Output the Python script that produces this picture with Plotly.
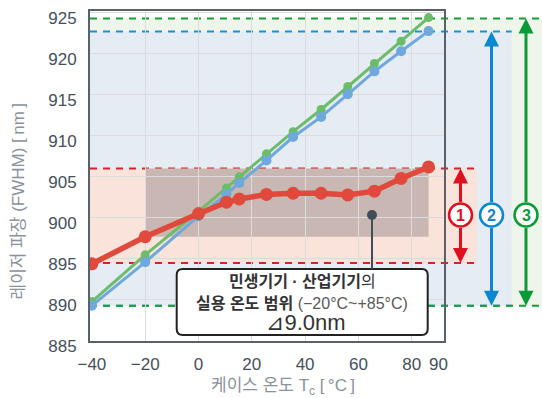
import plotly.graph_objects as go

# ---------------- data ----------------
temps = [-40, -20, 0, 10.5, 15.3, 25.5, 35.5, 46, 56, 66, 76, 86.3]
red_vals = [894.4, 897.7, 900.5, 901.9, 902.3, 902.85, 903.0, 903.0, 902.8, 903.25, 904.8, 906.2]
green_vals = [889.8, 895.5, 900.8, 903.65, 905.0, 907.8, 910.5, 913.2, 916.0, 918.8, 921.5, 924.4]
blue_vals = [889.3, 894.6, 900.2, 902.85, 904.25, 907.0, 909.85, 912.3, 915.05, 917.85, 920.3, 922.75]

x_ticks = [-40, -20, 0, 20, 40, 60, 80, 90]
x_grid = [-20, 0, 20, 40, 60, 80]
y_ticks = [885, 890, 895, 900, 905, 910, 915, 920, 925]

red_band = [894.5, 906.0]
blue_band = [889.3, 922.7]
green_band = [889.3, 924.3]
use_temp = [-20, 86.3]
use_levels = [897.7, 906.0]

# ---------------- geometry / style ----------------
W, H = 542, 398
ML, MR, MT, MB = 90, 98, 11, 57
PW, PH = W - ML - MR, H - MT - MB
X_RANGE = [-40.7, 92.1]
Y_RANGE = [885, 925.2]
ppu_y = PH / (Y_RANGE[1] - Y_RANGE[0])
ppu_x = PW / (X_RANGE[1] - X_RANGE[0])

def xpaper(px):
    return (px - ML) / PW

def ypaper(py):
    return (H - MB - py) / PH

RED, BLUE, GREEN = "#e0493b", "#6fa8dc", "#6cbc69"
RED_D, BLUE_D, GREEN_D = "#d9202b", "#1f8fd3", "#17a03a"
RED_A, BLUE_A, GREEN_A = "#e0101e", "#0b88d1", "#0a9a36"

fig = go.Figure()
fig.add_trace(go.Scatter(x=temps, y=green_vals, mode="lines+markers",
                         line=dict(color=GREEN, width=3), marker=dict(size=9, color=GREEN),
                         showlegend=False, hoverinfo="skip"))
fig.add_trace(go.Scatter(x=temps, y=blue_vals, mode="lines+markers",
                         line=dict(color=BLUE, width=3), marker=dict(size=10, color=BLUE),
                         showlegend=False, hoverinfo="skip"))
fig.add_trace(go.Scatter(x=temps, y=red_vals, mode="lines+markers",
                         line=dict(color=RED, width=5.5), marker=dict(size=13, color=RED),
                         showlegend=False, hoverinfo="skip"))

shapes = []
# background bands
shapes.append(dict(type="rect", xref="paper", yref="y", x0=0, x1=xpaper(542), y0=green_band[0], y1=green_band[1],
                   fillcolor="#eef5ea", line=dict(width=0), layer="below"))
shapes.append(dict(type="rect", xref="paper", yref="y", x0=0, x1=xpaper(511.7), y0=blue_band[0], y1=blue_band[1],
                   fillcolor="#e5ecf4", line=dict(width=0), layer="below"))
shapes.append(dict(type="rect", xref="paper", yref="y", x0=0, x1=xpaper(476.7), y0=red_band[0], y1=red_band[1],
                   fillcolor="#f9e3da", line=dict(width=0), layer="below"))
shapes.append(dict(type="rect", xref="x", yref="y", x0=use_temp[0], x1=use_temp[1], y0=use_levels[0], y1=use_levels[1],
                   fillcolor="#c8b7b2", line=dict(width=0), layer="below"))

DASH = "7px,6px"
def hline(val, x1px, color):
    return dict(type="line", xref="paper", yref="y", x0=0, x1=xpaper(x1px), y0=val, y1=val,
                line=dict(color=color, width=2, dash=DASH), layer="between")

shapes.append(hline(green_band[1], 542, GREEN_D))
shapes.append(hline(blue_band[1], 511.7, BLUE_D))
shapes.append(hline(red_band[1], 476.7, RED_D))
shapes.append(hline(red_band[0], 476.7, RED_D))
shapes.append(hline(blue_band[0], 511.7, BLUE_D))
shapes.append(hline(green_band[0], 542, GREEN_D))

# callout box
bx0 = (176.7 - ML) / ppu_x + X_RANGE[0]
bx1 = (427.7 - ML) / ppu_x + X_RANGE[0]
by1 = Y_RANGE[0] + (H - MB - 269) / ppu_y
by0 = Y_RANGE[0] + (H - MB - 335) / ppu_y
rx, ry = 6 / ppu_x, 6 / ppu_y
path = (f"M{bx0+rx},{by0} L{bx1-rx},{by0} Q{bx1},{by0} {bx1},{by0+ry} L{bx1},{by1-ry} "
        f"Q{bx1},{by1} {bx1-rx},{by1} L{bx0+rx},{by1} Q{bx0},{by1} {bx0},{by1-ry} "
        f"L{bx0},{by0+ry} Q{bx0},{by0} {bx0+rx},{by0} Z")
shapes.append(dict(type="path", xref="x", yref="y", path=path, fillcolor="white",
                   line=dict(color="#222222", width=2), layer="above"))

pointer_x = (372 - ML) / ppu_x + X_RANGE[0]
pointer_y = Y_RANGE[0] + (H - MB - 215) / ppu_y
shapes.append(dict(type="line", xref="x", yref="y", x0=pointer_x, x1=pointer_x, y0=by1, y1=pointer_y,
                   line=dict(color="#444d57", width=2), layer="above"))
shapes.append(dict(type="circle", xref="x", yref="y", xsizemode="pixel", ysizemode="pixel",
                   xanchor=pointer_x, yanchor=pointer_y, x0=-5, x1=5, y0=-5, y1=5,
                   fillcolor="#444d57", line=dict(width=0), layer="above"))

annotations = []
# range arrows with circled numbers
circle_c = pointer_y
r_px = 11.5
r_u = r_px / ppu_y
arrows = [("1", 460.5, red_band, RED_A), ("2", 491.5, blue_band, BLUE_A), ("3", 526.0, green_band, GREEN_A)]
for lab, xpx, band, col in arrows:
    xp = xpaper(xpx)
    annotations.append(dict(x=xp, y=band[1], xref="paper", yref="y", ax=0, axref="pixel",
                            ay=circle_c + r_u, ayref="y", text="", showarrow=True,
                            arrowhead=2, arrowsize=1, arrowwidth=3, arrowcolor=col, standoff=0))
    annotations.append(dict(x=xp, y=band[0], xref="paper", yref="y", ax=0, axref="pixel",
                            ay=circle_c - r_u, ayref="y", text="", showarrow=True,
                            arrowhead=2, arrowsize=1, arrowwidth=3, arrowcolor=col, standoff=0))
    shapes.append(dict(type="circle", xref="paper", yref="y", xsizemode="pixel", ysizemode="pixel",
                       xanchor=xp, yanchor=circle_c, x0=-r_px, x1=r_px, y0=-r_px, y1=r_px,
                       fillcolor="white", line=dict(color=col, width=2.5), layer="above"))
    annotations.append(dict(x=xp, y=circle_c, xref="paper", yref="y", text=f"<b>{lab}</b>",
                            showarrow=False, xanchor="center", yanchor="middle",
                            font=dict(family="Liberation Sans", size=16, color=col)))

BOX_FONT = "Liberation Sans, Noto Sans CJK KR"
bx_center = xpaper(302.2)
annotations.append(dict(x=bx_center, y=ypaper(281.7), xref="paper", yref="paper", showarrow=False,
                        text="<b>민생기기 · 산업기기</b>의", xanchor="center", yanchor="middle",
                        font=dict(family=BOX_FONT, size=16, color="#333333")))
annotations.append(dict(x=bx_center, y=ypaper(303.3), xref="paper", yref="paper", showarrow=False,
                        text="<b>실용 온도 범위</b> <span style='color:#5a5a5a'>(−20°C~+85°C)</span>",
                        xanchor="center", yanchor="middle",
                        font=dict(family=BOX_FONT, size=16, color="#333333")))
annotations.append(dict(x=xpaper(306), y=ypaper(322.5), xref="paper", yref="paper", showarrow=False,
                        text="⊿9.0nm", xanchor="center", yanchor="middle",
                        font=dict(family="Liberation Sans, DejaVu Sans, Noto Sans CJK KR", size=22, color="#333333")))

# axis titles
TITLE_FONT = dict(family="Liberation Sans, Noto Sans CJK KR", size=17, color="#8a929b")
annotations.append(dict(x=xpaper(18), y=ypaper(201.5), xref="paper", yref="paper", showarrow=False,
                        text="레이저 파장 (FWHM) [\u2009nm\u2009]", textangle=-90,
                        xanchor="center", yanchor="middle", font=TITLE_FONT))
annotations.append(dict(x=xpaper(283), y=ypaper(387), xref="paper", yref="paper", showarrow=False,
                        text="케이스 온도 T<sub>c</sub> [\u2009°C\u2009]",
                        xanchor="center", yanchor="middle", font=TITLE_FONT))

TICK_FONT = dict(family="Liberation Sans", size=17, color="#45505b")
fig.update_layout(
    width=W, height=H, template="none",
    margin=dict(l=ML, r=MR, t=MT, b=MB, pad=0),
    paper_bgcolor="white", plot_bgcolor="white",
    showlegend=False,
    shapes=shapes, annotations=annotations,
    xaxis=dict(range=X_RANGE, tickmode="array", tickvals=x_ticks, ticktext=[str(v).replace("-", "−") for v in x_ticks],
               showgrid=False, zeroline=False, showline=True, mirror=True, linecolor="#59616b", linewidth=2,
               ticks="", tickfont=TICK_FONT, ticklabelstandoff=7, automargin=False,
               minor=dict(tickmode="array", tickvals=x_grid, showgrid=True, gridcolor="#dcdcdc", gridwidth=1.3, ticks="")),
    yaxis=dict(range=Y_RANGE, tickmode="array", tickvals=y_ticks,
               showgrid=True, gridcolor="#dcdcdc", gridwidth=1.3, zeroline=False,
               showline=True, mirror=True, linecolor="#59616b", linewidth=2,
               ticks="", tickfont=TICK_FONT, ticklabelstandoff=8, ticklabelshift=5, automargin=False),
)

fig.write_html("out.html", config={"displayModeBar": False},
               post_script="document.body.style.margin='0';document.body.style.padding='0';")
